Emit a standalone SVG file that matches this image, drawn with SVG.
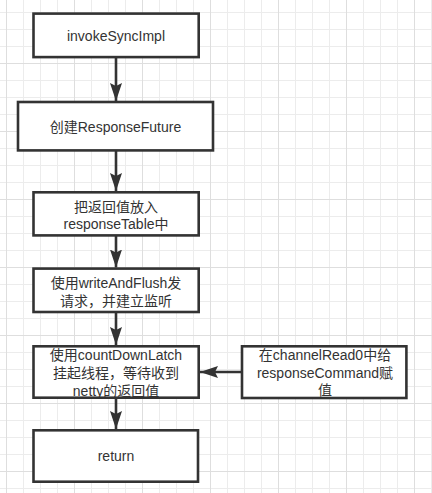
<svg xmlns="http://www.w3.org/2000/svg" width="432" height="493" viewBox="0 0 432 493">
<defs>
<pattern id="minor" patternUnits="userSpaceOnUse" x="6" y="12" width="17" height="17">
<path d="M0.5 0V17M0 0.5H17" stroke="#ececec" stroke-width="1" fill="none"/>
</pattern>
<pattern id="major" patternUnits="userSpaceOnUse" x="6" y="63" width="68" height="68">
<path d="M0.5 0V68M0 0.5H68" stroke="#dedede" stroke-width="1" fill="none"/>
</pattern>
<marker id="arr" viewBox="0 0 18 12" refX="18" refY="6" markerWidth="18" markerHeight="12" markerUnits="userSpaceOnUse" orient="auto">
<path d="M0 0L18 6L0 12L3 6Z" fill="#333"/>
</marker>
</defs>
<style>
.box{fill:#fff;stroke:#333;stroke-width:2.6}
.t{font-family:"Liberation Sans","Noto Sans CJK SC",sans-serif;font-size:14px;fill:#333;text-anchor:middle}
.c{stroke:#333;stroke-width:2.6;fill:none;marker-end:url(#arr)}
</style>
<rect width="432" height="493" fill="#fff"/>
<rect width="432" height="493" fill="url(#minor)"/>
<rect width="432" height="493" fill="url(#major)"/>
<g id="connectors">
<path class="c" d="M116 57V101"/>
<path class="c" d="M116 150.5V191"/>
<path class="c" d="M116 235.5V267.5"/>
<path class="c" d="M116 312V345"/>
<path class="c" d="M116 397.7V429"/>
<path class="c" d="M242 372H200"/>
</g>
<g id="n1"><rect class="box" x="33.5" y="13.6" width="165.2" height="43.5"/><text class="t" x="116" y="41">invokeSyncImpl</text></g>
<g id="n2"><rect class="box" x="18" y="102" width="195" height="48.4"/><text class="t" x="115.5" y="132">创建ResponseFuture</text></g>
<g id="n3"><rect class="box" x="33.5" y="192.3" width="165.2" height="43.1"/><text class="t" x="116" y="211.5">把返回值放入</text><text class="t" x="116" y="229">responseTable中</text></g>
<g id="n4"><rect class="box" x="33.5" y="268.6" width="165.2" height="43.4"/><text class="t" x="116" y="288">使用writeAndFlush发</text><text class="t" x="116" y="305.5">请求，并建立监听</text></g>
<g id="n5"><rect class="box" x="33.5" y="346.3" width="165.2" height="51.4"/><text class="t" x="116" y="360">使用countDownLatch</text><text class="t" x="116" y="378">挂起线程，等待收到</text><text class="t" x="116" y="395.5">netty的返回值</text></g>
<g id="n6"><rect class="box" x="33.5" y="430.3" width="164.5" height="51.4"/><text class="t" x="116" y="461">return</text></g>
<g id="n7"><rect class="box" x="242" y="346.3" width="164.4" height="51.7"/><text class="t" x="325" y="360">在channelRead0中给</text><text class="t" x="325" y="377.5">responseCommand赋</text><text class="t" x="325" y="395">值</text></g>
</svg>
